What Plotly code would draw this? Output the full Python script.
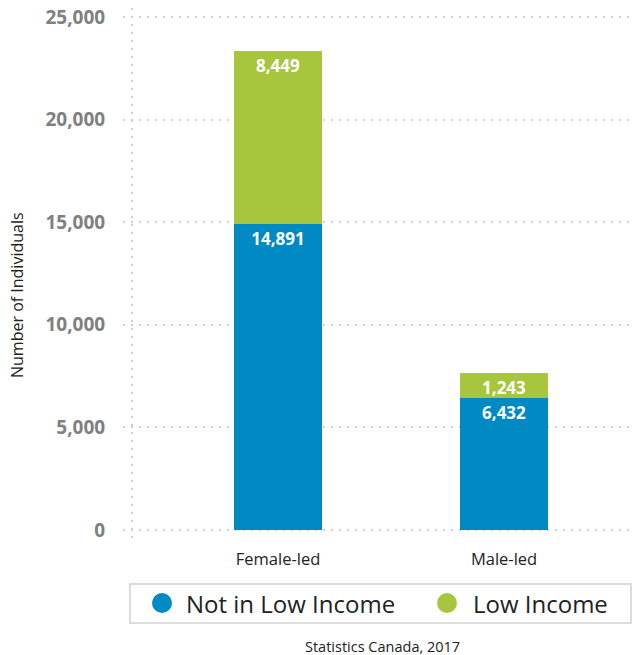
import plotly.graph_objects as go

categories = ["Female-led", "Male-led"]
not_low_income = [14891, 6432]
low_income = [8449, 1243]
series_names = ["Not in Low Income", "Low Income"]
y_ticks = [0, 5000, 10000, 15000, 20000, 25000]
y_tick_labels = ["0", "5,000", "10,000", "15,000", "20,000", "25,000"]

BLUE = "#008AC4"
GREEN = "#A7C63E"
FONT = "Open Sans"

# pixel -> paper helpers (plot area: x 123..632, y 8..538)
def px(x):
    return (x - 123) / 509

def py(y):
    return (538 - y) / 530

fig = go.Figure()
for vals, name, col in [(not_low_income, series_names[0], BLUE), (low_income, series_names[1], GREEN)]:
    fig.add_trace(go.Bar(
        x=[0, 1], y=vals, name=name, marker_color=col, marker_line_width=0,
        width=0.39, text=[f"{v:,}" for v in vals], textposition="inside",
        insidetextanchor="end", textangle=0, constraintext="none",
        textfont=dict(color="white", size=17, family=FONT, weight="bold"),
        showlegend=False, hoverinfo="skip"))

# dotted vertical axis line
fig.add_shape(type="line", x0=-0.646, x1=-0.646, y0=0, y1=1, xref="x", yref="paper",
              line=dict(color="#cfcfcf", width=2, dash="2px,6px"), layer="below")

# legend box, markers and labels
fig.add_shape(type="rect", xref="paper", yref="paper", x0=px(130), x1=px(631),
              y0=py(623), y1=py(584), line=dict(color="#dcdcdc", width=2))
legend_items = [(series_names[0], BLUE, 162, 184), (series_names[1], GREEN, 447, 471)]
annotations = []
for name, col, cx, tx in legend_items:
    fig.add_shape(type="circle", xref="paper", yref="paper",
                  x0=px(cx - 10), x1=px(cx + 10), y0=py(613), y1=py(593),
                  fillcolor=col, line=dict(width=0))
    annotations.append(dict(text=name, x=px(tx), y=py(603), xref="paper", yref="paper",
                            xanchor="left", yanchor="middle", showarrow=False,
                            font=dict(size=24, color="#222", family=FONT)))

annotations += [
    dict(text="Number of Individuals", textangle=-90, x=px(17), y=py(295),
         xref="paper", yref="paper", xanchor="center", yanchor="middle", showarrow=False,
         font=dict(size=16, color="#222", family=FONT)),
    dict(text="Statistics Canada, 2017", x=px(382), y=py(646),
         xref="paper", yref="paper", xanchor="center", yanchor="middle", showarrow=False,
         font=dict(size=14.5, color="#222", family=FONT)),
]

fig.update_layout(
    width=632, height=655,
    margin=dict(l=123, r=0, t=8, b=117),
    barmode="stack",
    showlegend=False,
    plot_bgcolor="white", paper_bgcolor="white",
    font=dict(family=FONT, color="#222"),
    xaxis=dict(range=[-0.686, 1.566], tickvals=[0, 1], ticktext=categories,
               showgrid=False, zeroline=False, showline=False,
               ticks="outside", ticklen=6, tickcolor="rgba(0,0,0,0)",
               tickfont=dict(size=16.5, color="#222", family=FONT)),
    yaxis=dict(range=[-390, 25439], tickvals=y_ticks, ticktext=y_tick_labels,
               showgrid=True, gridcolor="#cfcfcf", gridwidth=2, griddash="2px,6px",
               zeroline=False, showline=False,
               ticks="outside", ticklen=13, tickcolor="rgba(0,0,0,0)",
               tickfont=dict(size=19, color="#808080", family=FONT, weight="bold")),
    annotations=annotations,
)

fig.write_html("out.html")
